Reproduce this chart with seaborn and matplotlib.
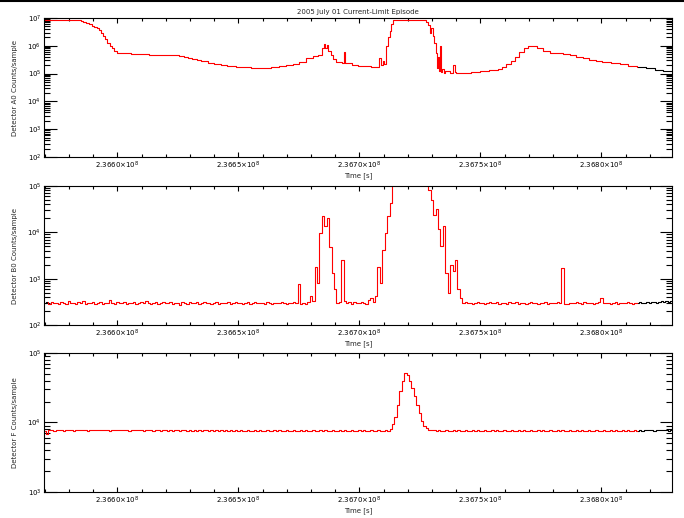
import numpy as np
import pandas as pd
import matplotlib
matplotlib.use("Agg")
import matplotlib.pyplot as plt
from matplotlib.lines import Line2D
from matplotlib.ticker import FixedLocator, LogLocator, NullFormatter
import seaborn as sns

# ---------------- data ----------------
T0 = 236570000.0          # seconds, reference epoch of the sample times below
KS = 1000.0               # times are stored in kiloseconds after T0

title = "2005 July 01 Current-Limit Episode"
y_labels = ["Detector A0 Counts/sample", "Detector B0 Counts/sample", "Detector F Counts/sample"]
x_label = "Time [s]"
x_major_ks = [30, 80, 130, 180, 230]
x_tick_labels = ["2.3660", "2.3665", "2.3670", "2.3675", "2.3680"]
x_limits_ks = [-0.3, 259.2]
red_end_ks = 245.2

# Detector A0 (stepped curve, breakpoints)
a0_ks = [0, 15.0, 16.0, 17.2, 18.3, 19.4, 20.5, 21.6, 22.5, 23.4, 24.2, 25.0, 25.9, 26.8, 27.7,
         28.6, 30.0, 35.8, 43.0, 55.6, 57.4, 59.2, 61.0, 62.8, 64.6, 67.3, 70.0, 72.7, 75.4,
         79.0, 82.6, 85.3, 89.8, 93.4, 97.0, 99.7, 102.4, 105.1, 107.8, 111.0, 113.0, 114.6,
         115.4, 116.0, 116.6, 117.2, 118.1, 119.0, 120.5, 122.8, 123.5, 123.9, 126.8, 129.5,
         134.9, 138.3, 138.9, 139.6, 140.3, 141.2, 141.9, 142.6, 143.2, 143.9, 157.4, 158.3,
         159.2, 159.8, 160.4, 161.0, 161.6, 162.0, 162.4, 162.8, 163.3, 163.7, 164.2, 164.8,
         165.5, 167.3, 168.9, 169.4, 170.0, 172.7, 176.3, 179.9, 183.5, 187.1, 188.9, 190.7,
         192.5, 194.3, 196.1, 197.9, 199.7, 201.5, 203.3, 206.0, 208.8, 211.5, 214.2, 216.9,
         219.6, 222.3, 225.0, 227.7, 230.4, 234.0, 237.6, 241.2, 244.8, 248.4, 252.0, 255.6, 259.5]
a0_counts = [8.2e6, 7.6e6, 7.0e6, 6.4e6, 5.9e6, 5.3e6, 4.8e6, 4.3e6, 3.7e6, 3.0e6, 2.3e6, 1.75e6,
             1.3e6, 1.0e6, 8.0e5, 6.6e5, 5.6e5, 5.0e5, 4.5e5, 4.3e5, 3.9e5, 3.6e5, 3.3e5, 3.0e5,
             2.75e5, 2.5e5, 2.3e5, 2.1e5, 1.95e5, 1.8e5, 1.7e5, 1.55e5, 1.6e5, 1.7e5, 1.85e5,
             2.0e5, 2.3e5, 2.6e5, 3.5e5, 4.2e5, 4.8e5, 8.5e5, 1.15e6, 8.0e5, 1.05e6, 6.5e5,
             4.5e5, 3.3e5, 2.7e5, 2.5e5, 6.0e5, 2.4e5, 2.1e5, 1.9e5, 1.7e5, 3.6e5, 2.0e5, 2.8e5,
             2.2e5, 1.0e6, 2.0e6, 3.5e6, 6.0e6, 8.2e6, 7.2e6, 5.5e6, 3.0e6, 4.5e6, 2.2e6, 1.3e6,
             5.5e5, 1.6e5, 3.8e5, 1.2e5, 1.0e6, 1.1e5, 1.5e5, 1.05e5, 1.2e5, 1.05e5, 2.0e5,
             1.1e5, 1.05e5, 1.05e5, 1.15e5, 1.25e5, 1.35e5, 1.5e5, 1.7e5, 2.2e5, 2.9e5, 4.0e5,
             6.0e5, 8.5e5, 1.0e6, 9.5e5, 8.0e5, 6.5e5, 5.7e5, 5.3e5, 5.0e5, 4.5e5, 4.0e5, 3.5e5,
             3.1e5, 2.8e5, 2.55e5, 2.35e5, 2.15e5, 1.95e5, 1.75e5, 1.6e5, 1.4e5, 1.2e5, 1.0e5]

# Detector B0 and F: one sample per kilosecond starting at T0
b0_counts = [
    300, 310, 285, 320, 295, 305, 280, 315, 300, 290,
    325, 295, 305, 285, 310, 300, 330, 290, 305, 295,
    310, 285, 300, 320, 290, 305, 295, 340, 300, 285,
    310, 300, 295, 320, 290, 305, 300, 315, 285, 300,
    310, 295, 325, 300, 290, 305, 315, 285, 300, 310,
    295, 300, 320, 290, 305, 300, 275, 315, 300, 290,
    310, 305, 295, 320, 285, 300, 310, 295, 305, 290,
    300, 315, 285, 305, 300, 295, 310, 280, 300, 320,
    295, 305, 290, 300, 315, 285, 300, 310, 295, 300,
    305, 290, 315, 300, 285, 305, 300, 295, 310, 300,
    290, 305, 300, 320, 295, 760, 290, 300, 285, 310,
    420, 330, 1800, 800, 9500, 22000, 14000, 20000, 4900, 1300,
    600, 300, 320, 2500, 330, 300, 310, 290, 320, 300,
    295, 310, 300, 290, 350, 390, 310, 420, 1800, 800,
    4100, 9700, 22000, 44000, 120000, 500000, 500000, 500000, 500000, 500000,
    500000, 500000, 500000, 500000, 500000, 500000, 500000, 500000, 300000, 80000,
    50000, 24000, 32000, 12000, 5000, 14000, 1300, 500, 2000, 1500,
    2500, 600, 380, 300, 310, 295, 305, 290, 300, 320,
    295, 305, 285, 300, 310, 295, 300, 315, 290, 305,
    300, 285, 310, 300, 295, 320, 290, 300, 305, 285,
    300, 310, 295, 300, 280, 305, 300, 315, 290, 300,
    305, 295, 310, 300, 1700, 290, 280, 305, 300, 295,
    310, 300, 290, 315, 300, 295, 305, 285, 300, 310,
    380, 300, 295, 305, 290, 300, 310, 285, 300, 305,
    295, 310, 300, 290, 305, 300, 310, 295, 305, 315,
    300, 310, 320, 305, 315, 325, 310, 330, 320, 335]

f_counts = [
    7600, 6900, 7750, 7800, 7650, 7750, 7700, 7800, 7650, 7750,
    7700, 7800, 7650, 7750, 7850, 7700, 7750, 7800, 7650, 7750,
    7800, 7700, 7850, 7750, 7700, 7800, 7750, 7650, 7800, 7700,
    7750, 7850, 7700, 7750, 7800, 7650, 7750, 7700, 7800, 7750,
    7700, 7650, 7750, 7700, 7800, 7650, 7700, 7750, 7650, 7700,
    7750, 7650, 7700, 7600, 7750, 7700, 7650, 7700, 7750, 7650,
    7700, 7650, 7750, 7600, 7700, 7650, 7700, 7750, 7650, 7700,
    7650, 7700, 7600, 7700, 7650, 7750, 7650, 7700, 7600, 7700,
    7650, 7700, 7600, 7650, 7700, 7650, 7600, 7700, 7650, 7700,
    7600, 7650, 7700, 7650, 7600, 7700, 7650, 7750, 7650, 7600,
    7700, 7650, 7600, 7700, 7650, 7600, 7700, 7650, 7700, 7600,
    7650, 7700, 7650, 7600, 7700, 7650, 7700, 7600, 7650, 7700,
    7650, 7600, 7700, 7650, 7700, 7650, 7600, 7700, 7650, 7600,
    7700, 7650, 7700, 7600, 7650, 7700, 7650, 7600, 7700, 7650,
    7600, 7700, 7650, 8000, 9500, 12000, 18000, 28000, 40000, 51000,
    48000, 39000, 31000, 24000, 18000, 13500, 10500, 9000, 8300, 7900,
    7750, 7700, 7650, 7700, 7600, 7650, 7700, 7650, 7600, 7700,
    7650, 7700, 7600, 7650, 7700, 7650, 7600, 7700, 7650, 7700,
    7600, 7650, 7700, 7650, 7600, 7700, 7650, 7750, 7650, 7600,
    7700, 7650, 7600, 7700, 7650, 7600, 7700, 7650, 7700, 7600,
    7650, 7700, 7650, 7600, 7700, 7650, 7700, 7600, 7650, 7700,
    7650, 7600, 7700, 7650, 7700, 7650, 7600, 7700, 7650, 7600,
    7700, 7650, 7700, 7600, 7650, 7700, 7650, 7600, 7700, 7650,
    7600, 7700, 7650, 7600, 7700, 7650, 7700, 7600, 7650, 7700,
    7650, 7700, 7650, 7600, 7700, 7650, 7750, 7650, 7700, 7750,
    7700, 7800, 7650, 7750, 7700, 7800, 7700, 7750, 7650, 7800]

panel_ylims = [(1e2, 1e7), (1e2, 1e5), (1e3, 1e5)]

# ---------------- style ----------------
sns.set_style("ticks")
plt.rcParams["font.family"] = ["DejaVu Sans"]
plt.rcParams["mathtext.fontset"] = "dejavusans"
FS = 5

fig = plt.figure(figsize=(6.84, 5.18), dpi=100)
fig.patch.set_facecolor("white")
W, H = 684.0, 518.0
left, right = 44, 672
panel_px = [(18, 157), (186, 325), (353, 492)]
axes = []
for top, bot in panel_px:
    ax = fig.add_axes([left / W, 1 - bot / H, (right - left) / W, (bot - top) / H])
    axes.append(ax)

red_end = T0 + red_end_ks * KS
lw = 0.8

# panel 1: stepped breakpoints, split into red part and black tail
a0_df = pd.DataFrame({"t": [T0 + k * KS for k in a0_ks], "c": a0_counts})
before = a0_df[a0_df.t <= red_end]
split_val = before.c.iloc[-1]
a0_red = pd.concat([before, pd.DataFrame({"t": [red_end], "c": [split_val]})], ignore_index=True)
a0_blk = pd.concat([pd.DataFrame({"t": [red_end], "c": [split_val]}), a0_df[a0_df.t > red_end]],
                   ignore_index=True)
sns.lineplot(data=a0_red, x="t", y="c", ax=axes[0], color="red", lw=lw,
             drawstyle="steps-post", estimator=None)
sns.lineplot(data=a0_blk, x="t", y="c", ax=axes[0], color="black", lw=lw,
             drawstyle="steps-post", estimator=None)

# panels 2, 3: uniformly sampled series
sample_t = T0 + KS * np.arange(len(b0_counts))
b0_df = pd.DataFrame({"t": sample_t, "c": b0_counts})
f_df = pd.DataFrame({"t": sample_t[:len(f_counts)], "c": f_counts})
red_last = int(np.floor(red_end_ks))

for ax, df, red_first in [(axes[1], b0_df, 1), (axes[2], f_df, 0)]:
    red = df.iloc[red_first:red_last + 1]
    blk_tail = df.iloc[red_last:]
    sns.lineplot(data=red, x="t", y="c", ax=ax, color="red", lw=lw,
                 drawstyle="steps-mid", estimator=None)
    sns.lineplot(data=blk_tail, x="t", y="c", ax=ax, color="black", lw=lw,
                 drawstyle="steps-mid", estimator=None)
    if red_first > 0:
        sns.lineplot(data=df.iloc[:red_first + 1], x="t", y="c", ax=ax, color="black", lw=lw,
                     drawstyle="steps-mid", estimator=None)

major_t = [T0 + k * KS for k in x_major_ks]
minor_t = [T0 + k * KS for k in np.arange(0, 260, 10)]
for ax, ylab, (ylo, yhi) in zip(axes, y_labels, panel_ylims):
    ax.set_yscale("log")
    ax.set_ylim(ylo, yhi)
    ax.set_xlim(T0 + x_limits_ks[0] * KS, T0 + x_limits_ks[1] * KS)
    ax.xaxis.set_major_locator(FixedLocator(major_t))
    ax.xaxis.set_minor_locator(FixedLocator([m for m in minor_t if m not in major_t]))
    ax.set_xticklabels([r"$%s{\times}10^{8}$" % s for s in x_tick_labels])
    decs = np.arange(int(np.log10(ylo)), int(np.log10(yhi)) + 1)
    ax.yaxis.set_major_locator(FixedLocator(10.0 ** decs))
    ax.set_yticklabels([r"$10^{%d}$" % d for d in decs])
    ax.yaxis.set_minor_locator(LogLocator(base=10, subs=np.arange(2, 10)))
    ax.yaxis.set_minor_formatter(NullFormatter())
    ax.tick_params(which="both", direction="in", top=True, right=True, width=0.8,
                   labelsize=FS, colors="black")
    ax.tick_params(axis="y", which="major", length=9, pad=2)
    ax.tick_params(axis="y", which="minor", length=4.5)
    ax.tick_params(axis="x", which="major", length=3.5, pad=2)
    ax.tick_params(axis="x", which="minor", length=2.5)
    for s in ax.spines.values():
        s.set_linewidth(0.8)
        s.set_color("black")
    ax.set_xlabel(x_label, fontsize=FS, labelpad=1)
    ax.set_ylabel(ylab, fontsize=FS, labelpad=7)
    ax.set_facecolor("white")
    ax.grid(False)

axes[0].set_title(title, fontsize=FS, pad=3)
fig.add_artist(Line2D([0, 1], [0.999, 0.999], transform=fig.transFigure, color="black", lw=1.5))

fig.savefig("out.png", dpi=100, facecolor="white")
